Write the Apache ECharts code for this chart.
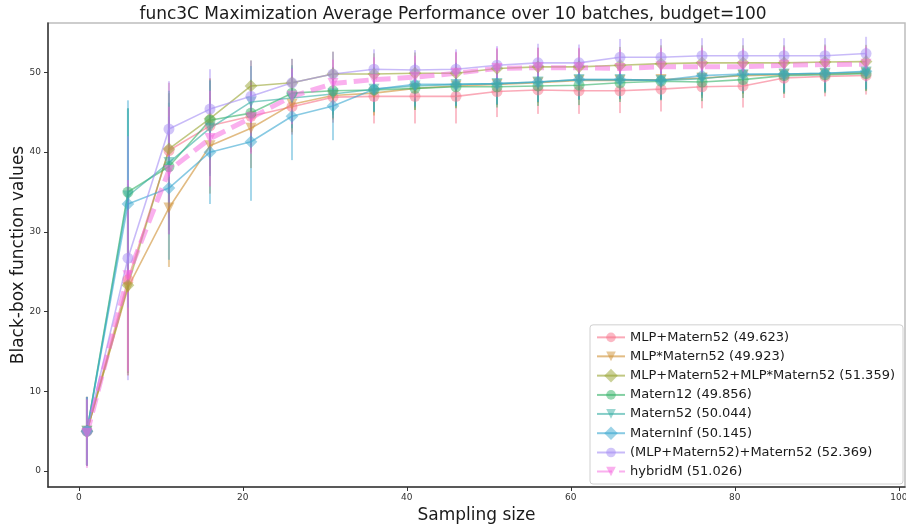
<!DOCTYPE html>
<html>
<head>
<meta charset="utf-8">
<script src="https://cdn.jsdelivr.net/npm/echarts@6/dist/echarts.min.js"></script>
<style>
  html, body { margin: 0; padding: 0; background: #fff; }
  #chart { width: 906px; height: 527px; }
</style>
</head>
<body>
<div id="chart"></div>
<script>
// Sampling sizes (x) shared by all kernels
const samplingSizes = [1, 6, 11, 16, 21, 26, 31, 36, 41, 46, 51, 56, 61, 66, 71, 76, 81, 86, 91, 96];

// Mean best value per kernel
const mlpPlusMatern52 = [5.0, 24.0, 40.2, 43.3, 44.5, 45.7, 46.9, 47.0, 47.0, 47.0, 47.6, 47.8, 47.7, 47.7, 47.9, 48.2, 48.3, 49.3, 49.5, 49.623];
const mlpTimesMatern52 = [5.0, 23.0, 33.0, 40.8, 43.0, 46.0, 47.1, 47.4, 48.0, 48.3, 48.5, 48.7, 49.0, 49.0, 49.1, 49.3, 49.6, 49.7, 49.8, 49.923];
const mlpSumProduct = [5.0, 23.3, 40.4, 44.2, 48.3, 48.7, 49.8, 49.8, 49.9, 49.9, 50.5, 50.7, 50.7, 50.9, 51.1, 51.2, 51.2, 51.2, 51.3, 51.359];
const matern12 = [5.0, 35.0, 38.2, 44.0, 44.9, 47.4, 47.7, 47.8, 48.0, 48.2, 48.2, 48.3, 48.4, 48.7, 48.9, 48.8, 49.1, 49.6, 49.7, 49.856];
const matern52 = [5.0, 34.5, 38.7, 43.0, 46.3, 46.8, 47.3, 47.9, 48.3, 48.5, 48.6, 48.8, 49.1, 49.1, 49.0, 49.2, 49.7, 49.8, 49.9, 50.044];
const maternInf = [5.0, 33.5, 35.5, 40.0, 41.3, 44.5, 45.8, 47.9, 48.5, 48.5, 48.6, 48.8, 49.1, 49.1, 49.0, 49.6, 49.8, 49.8, 49.9, 50.145];
const mlpPlusMatern52PlusMatern52 = [5.0, 26.7, 42.9, 45.4, 47.0, 48.7, 49.8, 50.4, 50.3, 50.4, 50.9, 51.2, 51.2, 51.9, 51.9, 52.1, 52.1, 52.1, 52.1, 52.369];
const hybridM = [4.7, 24.5, 37.7, 41.7, 44.3, 47.0, 48.6, 49.1, 49.4, 49.9, 50.5, 50.6, 50.6, 50.5, 50.7, 50.7, 50.7, 50.9, 51.0, 51.026];

// Standard deviation over the 10 batches
const mlpPlusMatern52Std = [4.3, 12.0, 8.5, 6.0, 4.5, 3.5, 3.2, 3.4, 3.4, 3.4, 3.2, 3.0, 2.9, 2.8, 2.8, 2.7, 2.7, 2.5, 2.5, 2.4];
const mlpTimesMatern52Std = [4.3, 11.0, 7.4, 6.0, 5.0, 3.5, 3.0, 2.8, 2.7, 2.7, 2.6, 2.5, 2.4, 2.4, 2.4, 2.3, 2.3, 2.3, 2.2, 2.2];
const mlpSumProductStd = [4.3, 11.0, 7.0, 5.0, 3.2, 3.0, 2.8, 2.6, 2.6, 2.6, 2.4, 2.4, 2.3, 2.3, 2.3, 2.2, 2.2, 2.2, 2.2, 2.1];
const matern12Std = [4.3, 10.5, 8.0, 5.0, 4.0, 3.5, 3.0, 2.8, 2.7, 2.7, 2.6, 2.5, 2.5, 2.4, 2.4, 2.4, 2.3, 2.3, 2.3, 2.2];
const matern52Std = [4.3, 11.0, 9.0, 6.0, 4.5, 3.8, 3.0, 2.8, 2.7, 2.7, 2.6, 2.5, 2.5, 2.4, 2.4, 2.4, 2.3, 2.3, 2.3, 2.2];
const maternInfStd = [4.3, 13.0, 9.0, 6.5, 7.4, 5.5, 4.3, 2.8, 2.7, 2.7, 2.6, 2.5, 2.5, 2.4, 2.4, 2.4, 2.3, 2.3, 2.3, 2.2];
const mlpPlusMatern52PlusMatern52Std = [4.3, 15.3, 6.0, 5.0, 4.5, 3.0, 2.8, 2.5, 2.5, 2.5, 2.4, 2.4, 2.3, 2.3, 2.3, 2.2, 2.2, 2.2, 2.2, 2.1];
const hybridMStd = [4.3, 12.0, 8.0, 6.0, 4.5, 3.5, 3.0, 2.8, 2.7, 2.7, 2.6, 2.5, 2.5, 2.4, 2.4, 2.4, 2.3, 2.3, 2.3, 2.2];

// Legend labels (final value in brackets)
const seriesNames = [
  'MLP+Matern52 (49.623)',
  'MLP*Matern52 (49.923)',
  'MLP+Matern52+MLP*Matern52 (51.359)',
  'Matern12 (49.856)',
  'Matern52 (50.044)',
  'MaternInf (50.145)',
  '(MLP+Matern52)+Matern52 (52.369)',
  'hybridM (51.026)'
];

// Tick labels
const xTicks = [0, 20, 40, 60, 80, 100];
const yTicks = [0, 10, 20, 30, 40, 50];

const means = [mlpPlusMatern52, mlpTimesMatern52, mlpSumProduct, matern12, matern52, maternInf, mlpPlusMatern52PlusMatern52, hybridM];
const stds = [mlpPlusMatern52Std, mlpTimesMatern52Std, mlpSumProductStd, matern12Std, matern52Std, maternInfStd, mlpPlusMatern52PlusMatern52Std, hybridMStd];

const colors = ['#f77189', '#ce9032', '#97a431', '#32b166', '#36ada4', '#39a7d0', '#a48cf4', '#f561dd'];
const markers = [
  { symbol: 'circle', size: 11, rotate: 0 },
  { symbol: 'triangle', size: 11, rotate: 180 },
  { symbol: 'rect', size: 9, rotate: 45 },
  { symbol: 'circle', size: 11, rotate: 0 },
  { symbol: 'triangle', size: 11, rotate: 180 },
  { symbol: 'rect', size: 9, rotate: 45 },
  { symbol: 'circle', size: 11, rotate: 0 },
  { symbol: 'triangle', size: 11, rotate: 180 }
];

const chart = echarts.init(document.getElementById('chart'), null, { renderer: 'canvas' });

const series = [];
means.forEach((m, i) => {
  const isHybrid = i === 7;
  series.push({
    name: seriesNames[i],
    type: 'line',
    data: samplingSizes.map((x, k) => [x, m[k]]),
    symbol: markers[i].symbol,
    symbolSize: markers[i].size,
    symbolRotate: markers[i].rotate,
    showSymbol: true,
    color: colors[i],
    lineStyle: isHybrid
      ? { width: 5, type: [15, 7], opacity: 0.5, color: colors[i] }
      : { width: 1.6, opacity: 0.6, color: colors[i] },
    itemStyle: { color: colors[i], opacity: 0.5 },
    emphasis: { disabled: true },
    animation: false,
    z: 3
  });
  // Vertical error bars (mean ± std)
  series.push({
    name: seriesNames[i],
    type: 'custom',
    data: samplingSizes.map((x, k) => [x, m[k] - stds[i][k], m[k] + stds[i][k]]),
    renderItem: function (params, api) {
      const lo = api.coord([api.value(0), api.value(1)]);
      const hi = api.coord([api.value(0), api.value(2)]);
      return {
        type: 'line',
        shape: { x1: lo[0], y1: lo[1], x2: hi[0], y2: hi[1] },
        style: { stroke: colors[i], lineWidth: 2, opacity: 0.45 }
      };
    },
    encode: { x: 0, y: [1, 2] },
    silent: true,
    animation: false,
    z: 2
  });
});

const option = {
  backgroundColor: '#ffffff',
  animation: false,
  title: {
    text: 'func3C Maximization Average Performance over 10 batches, budget=100',
    left: 'center',
    top: 1,
    textStyle: { fontFamily: 'DejaVu Sans', fontSize: 17, fontWeight: 'normal', color: '#1a1a1a' }
  },
  grid: {
    left: 48, right: 1, top: 23, bottom: 40,
    outerBoundsMode: 'none',
    containLabel: false,
    show: true, borderColor: '#bdbdbd', borderWidth: 1.5, backgroundColor: 'transparent'
  },
  legend: {
    data: seriesNames,
    orient: 'vertical',
    right: 3,
    bottom: 43,
    itemWidth: 28,
    itemHeight: 12,
    itemGap: 6,
    padding: [6, 8, 6, 6],
    backgroundColor: 'rgba(255,255,255,0.85)',
    borderColor: '#d0d0d0',
    borderWidth: 1,
    borderRadius: 3,
    textStyle: { fontFamily: 'DejaVu Sans', fontSize: 13, color: '#1a1a1a' }
  },
  xAxis: {
    type: 'value',
    min: -3.75,
    max: 100.75,
    name: 'Sampling size',
    nameLocation: 'middle',
    nameGap: 20,
    nameTextStyle: { fontFamily: 'DejaVu Sans', fontSize: 17, color: '#1a1a1a' },
    axisLine: { show: true, onZero: false, lineStyle: { color: '#333', width: 1.5 } },
    axisTick: { show: true, customValues: xTicks, length: 4, lineStyle: { color: '#333' } },
    axisLabel: { customValues: xTicks, fontFamily: 'DejaVu Sans', fontSize: 9, color: '#333', margin: 6 },
    splitLine: { show: false }
  },
  yAxis: {
    type: 'value',
    min: -2,
    max: 56.2,
    name: 'Black-box function values',
    nameLocation: 'middle',
    nameGap: 21,
    nameMoveOverlap: false,
    nameTextStyle: { fontFamily: 'DejaVu Sans', fontSize: 17, color: '#1a1a1a' },
    axisLine: { show: true, onZero: false, lineStyle: { color: '#333', width: 1.5 } },
    axisTick: { show: true, customValues: yTicks, length: 4, lineStyle: { color: '#333' } },
    axisLabel: { customValues: yTicks, fontFamily: 'DejaVu Sans', fontSize: 9, color: '#333', margin: 7 },
    splitLine: { show: false }
  },
  series: series
};

chart.setOption(option);
</script>
</body>
</html>
